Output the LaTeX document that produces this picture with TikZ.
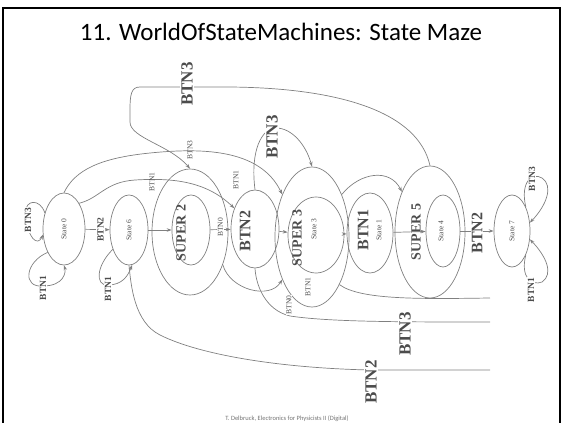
\documentclass[tikz,border=0pt]{standalone}
\usepackage{fontspec}
\setmainfont{Liberation Serif}
\newfontfamily\titlefont{Carlito}
\usetikzlibrary{shapes.geometric,arrows.meta}
\definecolor{wire}{gray}{0.5}
\definecolor{ink}{gray}{0.3}
\tikzset{
  st/.style={draw=wire, line width=0.7pt, ellipse, inner sep=0pt, text=ink},
  tr/.style={draw=wire, line width=0.7pt},
  arr/.style={tr, -{Stealth[length=5pt,width=3.5pt]}},
  bigname/.style={rotate=90, text=ink, inner sep=0.5pt, font=\bfseries\fontsize{14}{14}\selectfont},
  smallname/.style={rotate=90, text=ink, inner sep=0.5pt, font=\fontsize{7.5}{8}\selectfont},
  looplab/.style={rotate=90, fill=white, text=ink, inner sep=1pt, font=\bfseries\fontsize{9.5}{10}\selectfont},
  arclab/.style={rotate=90, fill=white, text=ink, inner sep=1pt, font=\bfseries\fontsize{17}{17}\selectfont},
}
\begin{document}
\begin{tikzpicture}[x=1pt,y=-1pt]
\useasboundingbox (0,0) rectangle (563,423);
% slide frame, title and footer
\draw[line width=2pt] (3,8) rectangle (560,445);
\node[font=\titlefont\fontsize{25}{30}\selectfont] (title) at (281,32) {11. WorldOfStateMachines: State Maze};
\node[font=\titlefont\fontsize{6.5}{7}\selectfont, text=black!55, inner sep=0pt] (foot) at (287,419) {T. Delbruck, Electronics for Physicists II (Digital)};

% plain states
\node[st, minimum width=42pt, minimum height=72pt] (s0) at (64,229) {};
\node[st, minimum width=38pt, minimum height=70pt] (s6) at (129,230) {};
\node[st, minimum width=36pt, minimum height=72pt] (s7) at (512,231) {};
\node[smallname] (s0n) at (64,229) {State 0};
\node[smallname] (s6n) at (129,230) {State 6};
\node[smallname] (s7n) at (512,231) {State 7};

% super states with their inner states
\node[st, minimum width=76pt, minimum height=126pt] (sup2) at (190,232) {};
\node[st, minimum width=38pt, minimum height=70pt] (s2) at (191,230) {};
\node[bigname] (sup2n) at (181,233) {SUPER 2};

\node[st, minimum width=48pt, minimum height=78pt] (mid) at (255,229) {};
\node[bigname, font=\bfseries\fontsize{16}{16}\selectfont] (midn) at (245,231) {BTN2};

\node[st, minimum width=74pt, minimum height=140pt] (sup3) at (312,237) {};
\node[st, minimum width=56pt, minimum height=76pt] (s3) at (316,235) {};
\node[bigname] (sup3n) at (297,238) {SUPER 3};
\node[smallname] (s3n) at (314,229) {State 3};

\node[st, minimum width=46pt, minimum height=80pt] (s1) at (370,233) {};
\node[bigname, font=\bfseries\fontsize{16}{16}\selectfont] (s1n) at (363,230) {BTN1};
\node[smallname] (s1m) at (379,230) {State 1};

\node[st, minimum width=70pt, minimum height=132pt] (sup5) at (430,232) {};
\node[st, minimum width=34pt, minimum height=72pt] (s4) at (443,231) {};
\node[bigname] (sup5n) at (416,232) {SUPER 5};
\node[smallname] (s4n) at (441,231) {State 4};

% transitions along the middle row
\draw[arr] (s0) -- (s6) node[looplab, midway, yshift=-3pt] (l06) {BTN2};
\draw[arr] (s6) -- (s2);
\draw[arr] (s2) -- (mid) node[smallname, fill=white, midway, xshift=2pt] (l2m) {BTN0};
\draw[arr] (mid) -- (s3);
\draw[arr] (s3) -- (s1);
\draw[arr] (s1) -- (s4);
\draw[arr] (s4) -- (s7) node[bigname, fill=white, midway, font=\bfseries\fontsize{16}{16}\selectfont, xshift=-2pt] (l47) {BTN2};

% self loops
\draw[arr] (s0.140) .. controls (40,198) and (25,200) .. (26,212)
           .. controls (27,240) and (38,246) .. (s0.195);
\node[looplab] (l00a) at (28,220) {BTN3};
\draw[arr] (s0.235) .. controls (25,262) and (22,288) .. (43,286)
           .. controls (64,286) and (66,272) .. (s0.270);
\node[looplab] (l00b) at (43,288) {BTN1};
\draw[arr] (s6.230) .. controls (96,266) and (95,286) .. (108,285)
           .. controls (122,285) and (128,276) .. (s6.275);
\node[looplab] (l66) at (108,289) {BTN1};
\draw[arr] (s7.60) .. controls (520,182) and (532,172) .. (542,178)
           .. controls (554,186) and (546,206) .. (s7.25);
\node[looplab] (l77a) at (532,179) {BTN3};
\draw[arr] (s7.-60) .. controls (520,278) and (532,286) .. (542,282)
           .. controls (554,274) and (546,256) .. (s7.-25);
\node[looplab] (l77b) at (531,290) {BTN1};

% arcs over the top
\draw[arr] (sup5.north) .. controls (418,112) and (340,88) .. (230,87)
           -- (140,87) .. controls (131,87) and (130,95) .. (130,110)
           -- (130,122) .. controls (130,138) and (170,145) .. (sup2.north);
\node[arclab] (ltop) at (187,84) {BTN3};
\draw[arr] (mid.north) .. controls (250,150) and (262,128) .. (276,128)
           .. controls (292,128) and (306,145) .. (sup3.north);
\node[arclab] (lmid) at (272,137) {BTN3};
\draw[arr] (s0.north) .. controls (75,170) and (100,158) .. (150,153)
           .. controls (200,148) and (260,148) .. (sup3.125);
\draw[arr] (s0.north east) .. controls (100,198) and (105,182) .. (135,180)
           .. controls (170,178) and (205,180) .. (mid.135);
\node[smallname] (lt1) at (152,182) {BTN1};
\node[smallname] (lt2) at (190,150) {BTN3};
\node[smallname] (lt3) at (236,180) {BTN1};
\draw[arr] (sup3.55) .. controls (360,172) and (390,168) .. (sup5.125);

% arcs under the bottom
\coordinate (b1) at (490,370);
\coordinate (b2) at (490,322);
\coordinate (b3) at (490,298);
\draw[tr] (s6.south) .. controls (131,285) and (134,322) .. (160,335)
          .. controls (200,355) and (280,368) .. (370,370) -- (b1);
\node[arclab] (lb1) at (371,382) {BTN2};
\draw[tr] (mid.south) .. controls (256,285) and (265,310) .. (290,316)
          .. controls (330,322) and (400,322) .. (b2);
\node[arclab] (lb2) at (405,334) {BTN3};
\node[smallname, fill=white] (lb0) at (289,305) {BTN0};
\draw[tr] (sup3.-60) .. controls (360,300) and (420,299) .. (b3);
\node[smallname] (lb4) at (308,287) {BTN1};
\draw[arr] (sup2.-45) .. controls (230,290) and (270,300) .. (sup3.-125);
\end{tikzpicture}
\end{document}
